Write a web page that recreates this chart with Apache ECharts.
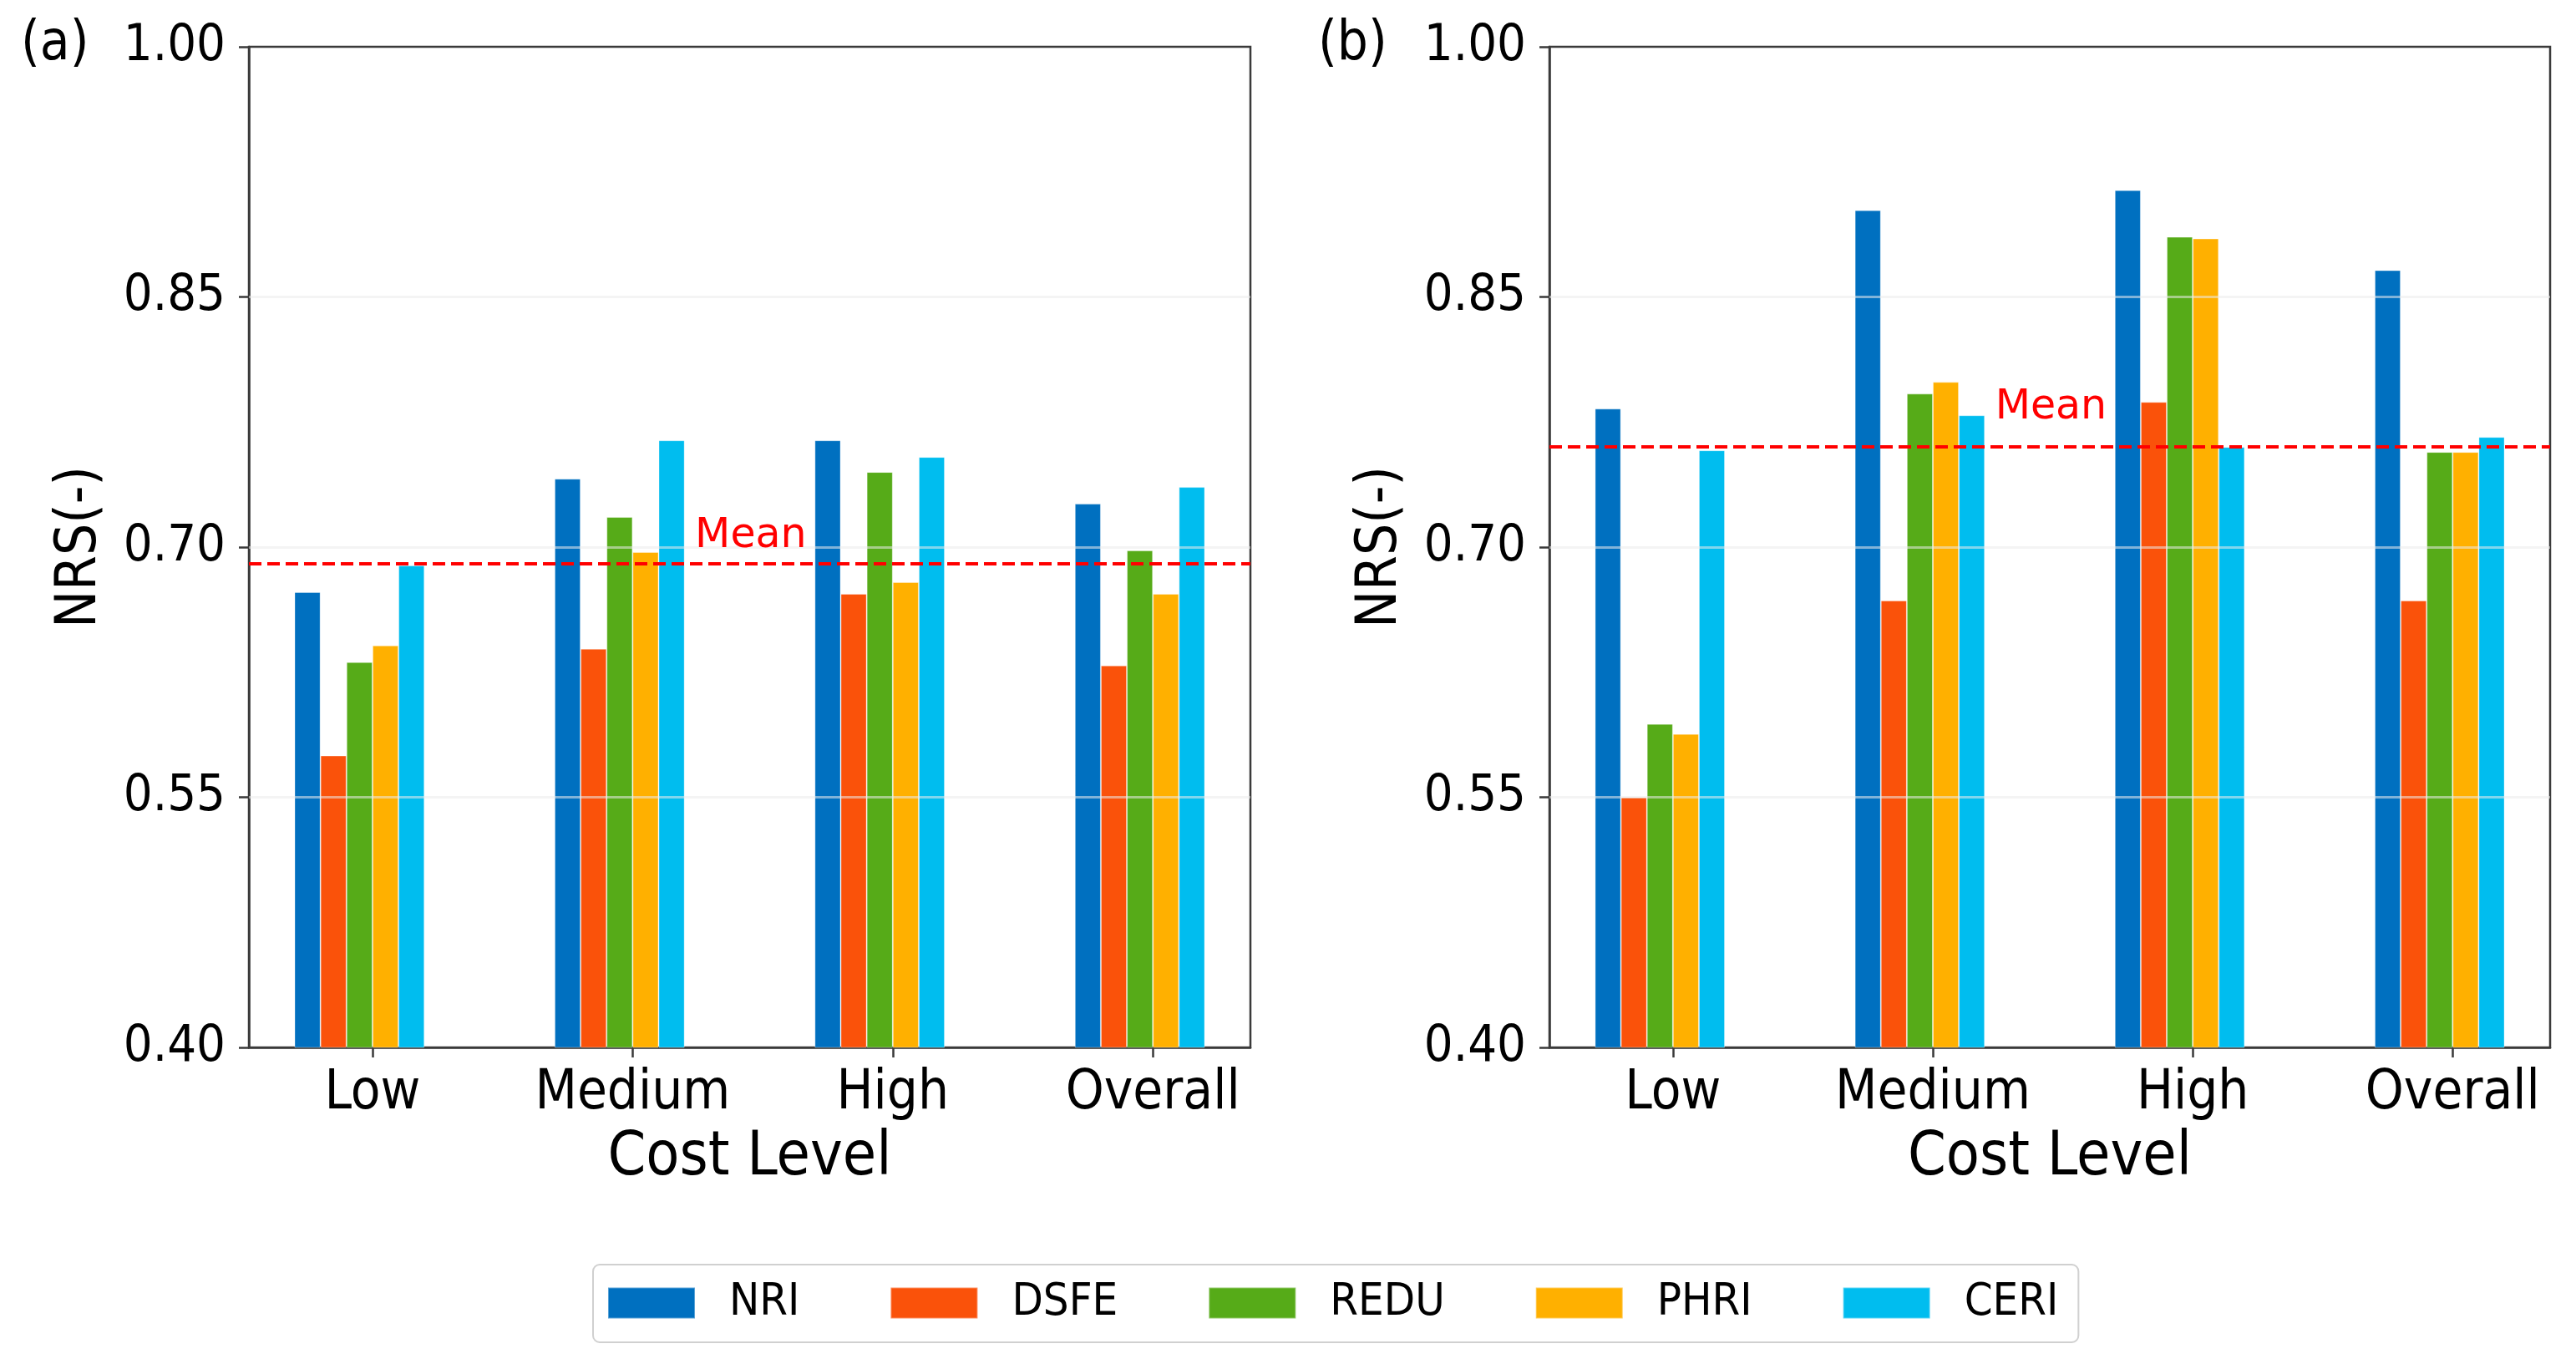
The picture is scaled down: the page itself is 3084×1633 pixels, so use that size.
<!DOCTYPE html>
<html>
<head>
<meta charset="utf-8">
<script src="https://cdn.jsdelivr.net/npm/echarts@6/dist/echarts.min.js"></script>
<style>
html,body{margin:0;padding:0;background:#fff;}
#chart{width:3084px;height:1633px;}
</style>
</head>
<body>
<div id="chart"></div>
<script>
// ---------- data ----------
const categories = ['Low', 'Medium', 'High', 'Overall'];
const seriesNames = ['NRI', 'DSFE', 'REDU', 'PHRI', 'CERI'];
const yTicks = [0.40, 0.55, 0.70, 0.85, 1.00];
const panelLabels = ['(a)', '(b)'];

// panel (a)
const a_NRI  = [0.673, 0.741, 0.764, 0.726];
const a_DSFE = [0.575, 0.639, 0.672, 0.629];
const a_REDU = [0.631, 0.718, 0.745, 0.698];
const a_PHRI = [0.641, 0.697, 0.679, 0.672];
const a_CERI = [0.689, 0.764, 0.754, 0.736];
const a_mean = 0.692;

// panel (b)
const b_NRI  = [0.783, 0.902, 0.914, 0.866];
const b_DSFE = [0.550, 0.668, 0.787, 0.668];
const b_REDU = [0.594, 0.792, 0.886, 0.757];
const b_PHRI = [0.588, 0.799, 0.885, 0.757];
const b_CERI = [0.758, 0.779, 0.760, 0.766];
const b_mean = 0.763;

// ---------- styling ----------
const colors = ['#0070C0', '#FA520A', '#56AB18', '#FFB000', '#00BDEF'];
const FONT = '"DejaVu Sans Condensed", "DejaVu Sans", sans-serif';
const FONT_N = '"DejaVu Sans", sans-serif';

const xMin = -0.475, xMax = 3.375;
const barUnit = 0.1;
const grids = [
  {left: 298, top: 56, width: 1199, height: 1198},
  {left: 1855, top: 56, width: 1198, height: 1198}
];
const meanLabelX = 1.24;
const meanLabelLift = [-4, -16];

const panels = [
  {vals: [a_NRI, a_DSFE, a_REDU, a_PHRI, a_CERI], mean: a_mean},
  {vals: [b_NRI, b_DSFE, b_REDU, b_PHRI, b_CERI], mean: b_mean}
];

const xAxes = [], yAxes = [], series = [];
panels.forEach((p, pi) => {
  const g = grids[pi];
  const barPx = barUnit * g.width / (xMax - xMin);
  xAxes.push({
    type: 'value', gridIndex: pi, min: xMin, max: xMax,
    name: 'Cost Level', nameLocation: 'middle', nameGap: 97,
    nameTextStyle: {fontFamily: FONT, fontSize: 73, color: '#000'},
    axisLine: {show: true, onZero: false, lineStyle: {color: '#3a3a3a', width: 2.5}},
    axisTick: {show: true, inside: false, length: 12, customValues: [0,1,2,3], lineStyle: {color: '#3a3a3a', width: 2.5}},
    axisLabel: {show: true, customValues: [0,1,2,3], margin: 24, fontFamily: FONT, fontSize: 65, color: '#000',
      formatter: v => categories[Math.round(v)]},
    splitLine: {show: false}
  });
  yAxes.push({
    type: 'value', gridIndex: pi, min: 0.4, max: 1.0,
    name: 'NRS(-)', nameLocation: 'middle', nameGap: 168, nameRotate: 90,
    nameTextStyle: {fontFamily: FONT, fontSize: 67, color: '#000'},
    axisLine: {show: true, onZero: false, lineStyle: {color: '#3a3a3a', width: 2.5}},
    axisTick: {show: true, inside: false, length: 12, customValues: yTicks, lineStyle: {color: '#3a3a3a', width: 2.5}},
    axisLabel: {show: true, customValues: yTicks, margin: 28, fontFamily: FONT, fontSize: 61, color: '#000',
      formatter: v => v.toFixed(2)},
    splitLine: {show: false}
  });
  p.vals.forEach((vals, si) => {
    // bar centres: -0.25, -0.15, -0.05, 0.05, 0.15 around each category tick
    const off = (si - 2) * barUnit - barUnit / 2;
    const s = {
      type: 'bar', name: seriesNames[si], xAxisIndex: pi, yAxisIndex: pi,
      data: vals.map((v, ci) => [ci + off, v]),
      barWidth: barPx, barGap: '-100%',
      itemStyle: {color: colors[si], borderColor: 'rgba(255,255,255,0.35)', borderWidth: 1},
      clip: true,
      animation: false
    };
    if (si === seriesNames.length - 1) {
      s.markLine = {
        silent: true, symbol: 'none', animation: false,
        label: {show: false},
        data: [
          {yAxis: 0.55, lineStyle: {color: 'rgba(235,235,235,0.55)', width: 3, type: 'solid'}},
          {yAxis: 0.70, lineStyle: {color: 'rgba(235,235,235,0.55)', width: 3, type: 'solid'}},
          {yAxis: 0.85, lineStyle: {color: 'rgba(235,235,235,0.55)', width: 3, type: 'solid'}},
          {yAxis: p.mean, lineStyle: {color: '#FF0000', width: 4, type: [15, 7]}}
        ]
      };
      s.markPoint = {
        silent: true, animation: false, symbol: 'circle', symbolSize: 0,
        data: [{coord: [meanLabelX, p.mean], value: 'Mean'}],
        label: {show: true, formatter: 'Mean', position: [0, meanLabelLift[pi]], align: 'left', verticalAlign: 'bottom',
          fontFamily: FONT_N, fontSize: 49, lineHeight: 49, color: '#FF0000'}
      };
    }
    series.push(s);
  });
});

const chart = echarts.init(document.getElementById('chart'), null, {renderer: 'canvas'});
chart.setOption({
  animation: false,
  backgroundColor: '#fff',
  color: colors,
  grid: grids.map(g => Object.assign({show: true, borderColor: '#3a3a3a', borderWidth: 2.5, backgroundColor: 'transparent', containLabel: false}, g)),
  xAxis: xAxes,
  yAxis: yAxes,
  legend: {
    show: true, left: 710, top: 1514, orient: 'horizontal',
    data: seriesNames,
    icon: 'rect', itemWidth: 104, itemHeight: 37, itemGap: 108,
    padding: [19, 24, 20, 17],
    borderColor: '#d0d0d0', borderWidth: 2, borderRadius: 8,
    textStyle: {fontFamily: FONT, fontSize: 54, color: '#000', padding: [0, 0, 0, 36], lineHeight: 54}
  },
  graphic: [
    {type: 'text', left: 25, top: 22, style: {text: panelLabels[0], fontFamily: FONT, fontSize: 65, fill: '#000'}},
    {type: 'text', left: 1578, top: 22, style: {text: panelLabels[1], fontFamily: FONT, fontSize: 65, fill: '#000'}}
  ],
  series: series
});
</script>
</body>
</html>
